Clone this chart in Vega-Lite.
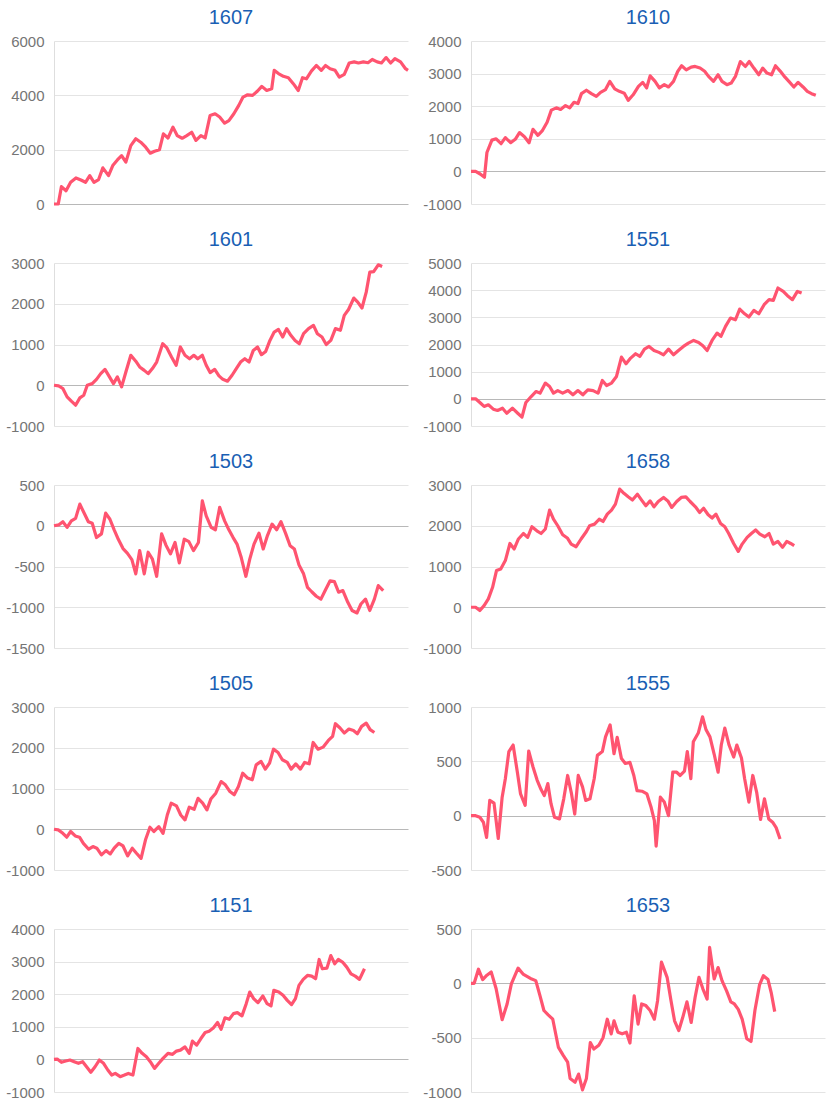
{
"$schema": "https://vega.github.io/schema/vega-lite/v6.json",
"background": "white",
"padding": {"left": 5, "top": 8, "right": 5, "bottom": 5},
"config": {
  "view": {"stroke": null},
  "title": {"fontSize": 20, "font": "Liberation Sans", "color": "#1a5fb4", "fontWeight": "normal", "anchor": "middle", "offset": 6},
  "axis": {"ticks": false, "labelFontSize": 15, "labelColor": "#757575", "labelFont": "Liberation Sans", "labelPadding": 10, "domainColor": "#dedede", "gridWidth": 1},
  "line": {"color": "#ff5470", "strokeWidth": 3.2, "strokeJoin": "round"}
},
"datasets": {
"s1607": [{"d":0,"v":0},{"d":1.2,"v":0},{"d":2.1,"v":640},{"d":3.4,"v":490},{"d":4.7,"v":800},{"d":6.2,"v":960},{"d":7.6,"v":885},{"d":8.9,"v":800},{"d":10.1,"v":1045},{"d":11.3,"v":800},{"d":12.6,"v":900},{"d":13.8,"v":1330},{"d":15.4,"v":1045},{"d":16.6,"v":1415},{"d":17.9,"v":1620},{"d":19.1,"v":1780},{"d":20.3,"v":1540},{"d":21.7,"v":2150},{"d":23.1,"v":2400},{"d":24.5,"v":2275},{"d":25.9,"v":2090},{"d":27.2,"v":1870},{"d":28.4,"v":1940},{"d":29.8,"v":2000},{"d":30.9,"v":2580},{"d":32.2,"v":2430},{"d":33.6,"v":2830},{"d":34.8,"v":2520},{"d":36.2,"v":2420},{"d":37.5,"v":2520},{"d":38.9,"v":2640},{"d":40.1,"v":2340},{"d":41.5,"v":2520},{"d":42.7,"v":2430},{"d":44.1,"v":3260},{"d":45.5,"v":3320},{"d":46.8,"v":3200},{"d":48.2,"v":2975},{"d":49.4,"v":3070},{"d":50.8,"v":3320},{"d":52.2,"v":3630},{"d":53.4,"v":3935},{"d":54.7,"v":4020},{"d":56.1,"v":4000},{"d":57.5,"v":4160},{"d":58.7,"v":4330},{"d":60.1,"v":4180},{"d":61.5,"v":4240},{"d":62.2,"v":4920},{"d":63.4,"v":4800},{"d":64.8,"v":4700},{"d":66.2,"v":4650},{"d":67.6,"v":4430},{"d":69.0,"v":4180},{"d":70.2,"v":4650},{"d":71.3,"v":4610},{"d":72.7,"v":4890},{"d":74.1,"v":5100},{"d":75.5,"v":4920},{"d":76.7,"v":5100},{"d":78.0,"v":4980},{"d":79.4,"v":4920},{"d":80.6,"v":4670},{"d":82.0,"v":4770},{"d":83.4,"v":5190},{"d":84.8,"v":5230},{"d":86.0,"v":5190},{"d":87.4,"v":5230},{"d":88.7,"v":5200},{"d":89.9,"v":5320},{"d":91.3,"v":5230},{"d":92.5,"v":5190},{"d":93.8,"v":5390},{"d":95.1,"v":5190},{"d":96.3,"v":5350},{"d":97.9,"v":5230},{"d":99.3,"v":4980},{"d":100,"v":4920}],
"s1610": [{"d":0,"v":0},{"d":1.3,"v":0},{"d":2.6,"v":-80},{"d":3.8,"v":-180},{"d":4.5,"v":580},{"d":5.9,"v":960},{"d":7.1,"v":1000},{"d":8.5,"v":850},{"d":9.7,"v":1035},{"d":11.2,"v":880},{"d":12.5,"v":985},{"d":13.7,"v":1190},{"d":15.1,"v":1065},{"d":16.4,"v":880},{"d":17.5,"v":1290},{"d":18.9,"v":1105},{"d":20.1,"v":1240},{"d":21.5,"v":1510},{"d":22.7,"v":1880},{"d":24.1,"v":1950},{"d":25.3,"v":1900},{"d":26.7,"v":2020},{"d":27.9,"v":1950},{"d":29.1,"v":2120},{"d":30.2,"v":2080},{"d":31.2,"v":2385},{"d":32.6,"v":2490},{"d":34.0,"v":2385},{"d":35.4,"v":2300},{"d":36.6,"v":2425},{"d":38.0,"v":2510},{"d":39.2,"v":2760},{"d":40.6,"v":2530},{"d":41.9,"v":2455},{"d":43.3,"v":2400},{"d":44.4,"v":2180},{"d":45.8,"v":2350},{"d":47.3,"v":2610},{"d":48.5,"v":2730},{"d":49.6,"v":2560},{"d":50.6,"v":2930},{"d":52.0,"v":2760},{"d":53.2,"v":2560},{"d":54.6,"v":2660},{"d":55.8,"v":2590},{"d":57.2,"v":2760},{"d":58.4,"v":3070},{"d":59.5,"v":3240},{"d":60.8,"v":3115},{"d":62.2,"v":3200},{"d":63.3,"v":3220},{"d":64.7,"v":3170},{"d":66.0,"v":3070},{"d":67.1,"v":2915},{"d":68.5,"v":2760},{"d":69.8,"v":2965},{"d":70.9,"v":2760},{"d":72.3,"v":2660},{"d":73.5,"v":2710},{"d":74.7,"v":2915},{"d":76.1,"v":3370},{"d":77.5,"v":3220},{"d":78.6,"v":3370},{"d":79.9,"v":3170},{"d":81.3,"v":2965},{"d":82.4,"v":3170},{"d":83.6,"v":3015},{"d":84.9,"v":2965},{"d":86.0,"v":3240},{"d":87.4,"v":3070},{"d":88.7,"v":2890},{"d":89.8,"v":2760},{"d":91.2,"v":2590},{"d":92.4,"v":2730},{"d":93.8,"v":2590},{"d":95.0,"v":2455},{"d":96.2,"v":2385},{"d":97.4,"v":2335}],
"s1601": [{"d":0,"v":0},{"d":1.3,"v":-15},{"d":2.5,"v":-80},{"d":3.7,"v":-285},{"d":4.9,"v":-390},{"d":6.1,"v":-490},{"d":7.3,"v":-310},{"d":8.4,"v":-245},{"d":9.4,"v":0},{"d":10.8,"v":40},{"d":12.0,"v":145},{"d":13.2,"v":285},{"d":14.4,"v":390},{"d":15.5,"v":230},{"d":16.8,"v":40},{"d":17.9,"v":205},{"d":19.1,"v":-40},{"d":20.3,"v":325},{"d":21.7,"v":735},{"d":23.1,"v":590},{"d":24.2,"v":450},{"d":25.5,"v":365},{"d":26.6,"v":285},{"d":27.8,"v":410},{"d":29.0,"v":570},{"d":30.7,"v":1020},{"d":31.9,"v":915},{"d":33.2,"v":695},{"d":34.5,"v":490},{"d":35.7,"v":940},{"d":37.0,"v":735},{"d":38.3,"v":650},{"d":39.5,"v":735},{"d":40.6,"v":650},{"d":41.9,"v":735},{"d":43.0,"v":490},{"d":44.1,"v":310},{"d":45.4,"v":390},{"d":46.6,"v":230},{"d":47.7,"v":145},{"d":49.0,"v":100},{"d":50.3,"v":245},{"d":51.5,"v":410},{"d":52.7,"v":570},{"d":53.9,"v":650},{"d":55.1,"v":570},{"d":56.3,"v":855},{"d":57.5,"v":940},{"d":58.6,"v":750},{"d":59.8,"v":830},{"d":61.0,"v":1100},{"d":62.2,"v":1305},{"d":63.4,"v":1370},{"d":64.6,"v":1185},{"d":65.7,"v":1390},{"d":66.9,"v":1225},{"d":68.1,"v":1100},{"d":69.3,"v":1020},{"d":70.5,"v":1265},{"d":71.9,"v":1390},{"d":73.3,"v":1470},{"d":74.4,"v":1265},{"d":75.7,"v":1185},{"d":76.9,"v":1000},{"d":78.2,"v":1100},{"d":79.5,"v":1390},{"d":80.9,"v":1350},{"d":82.0,"v":1715},{"d":83.2,"v":1860},{"d":84.7,"v":2140},{"d":85.8,"v":2040},{"d":87.0,"v":1895},{"d":88.2,"v":2285},{"d":89.2,"v":2775},{"d":90.3,"v":2790},{"d":91.6,"v":2955},{"d":92.7,"v":2915}],
"s1551": [{"d":0,"v":0},{"d":1.3,"v":0},{"d":2.5,"v":-135},{"d":3.7,"v":-280},{"d":4.9,"v":-220},{"d":6.3,"v":-380},{"d":7.5,"v":-430},{"d":8.9,"v":-345},{"d":10.1,"v":-530},{"d":11.7,"v":-345},{"d":13.2,"v":-530},{"d":14.4,"v":-675},{"d":15.5,"v":-135},{"d":17.0,"v":85},{"d":18.4,"v":270},{"d":19.5,"v":210},{"d":21.0,"v":580},{"d":22.2,"v":455},{"d":23.3,"v":210},{"d":24.5,"v":305},{"d":25.9,"v":210},{"d":27.4,"v":305},{"d":28.8,"v":150},{"d":30.2,"v":305},{"d":31.6,"v":150},{"d":33.0,"v":330},{"d":34.5,"v":305},{"d":35.9,"v":210},{"d":37.1,"v":675},{"d":38.3,"v":490},{"d":39.7,"v":580},{"d":41.1,"v":825},{"d":42.5,"v":1535},{"d":43.8,"v":1290},{"d":45.1,"v":1500},{"d":46.5,"v":1660},{"d":47.7,"v":1560},{"d":49.0,"v":1830},{"d":50.3,"v":1930},{"d":51.7,"v":1780},{"d":53.1,"v":1710},{"d":54.4,"v":1620},{"d":55.8,"v":1830},{"d":57.2,"v":1620},{"d":58.6,"v":1780},{"d":60.0,"v":1930},{"d":61.4,"v":2050},{"d":62.9,"v":2150},{"d":64.3,"v":2075},{"d":65.5,"v":1955},{"d":66.7,"v":1780},{"d":68.1,"v":2150},{"d":69.5,"v":2420},{"d":70.6,"v":2300},{"d":71.9,"v":2665},{"d":73.3,"v":2975},{"d":74.7,"v":2910},{"d":75.9,"v":3305},{"d":77.3,"v":3130},{"d":78.5,"v":3010},{"d":79.9,"v":3255},{"d":81.3,"v":3130},{"d":82.8,"v":3465},{"d":84.2,"v":3650},{"d":85.4,"v":3625},{"d":86.7,"v":4080},{"d":88.2,"v":3955},{"d":89.4,"v":3795},{"d":90.8,"v":3650},{"d":92.2,"v":3955},{"d":93.4,"v":3895}],
"s1503": [{"d":0,"v":0},{"d":1.3,"v":10},{"d":2.5,"v":50},{"d":3.7,"v":-20},{"d":4.9,"v":60},{"d":6.1,"v":90},{"d":7.3,"v":265},{"d":8.4,"v":165},{"d":9.7,"v":50},{"d":10.8,"v":30},{"d":12.0,"v":-145},{"d":13.4,"v":-100},{"d":14.6,"v":155},{"d":15.8,"v":80},{"d":17.0,"v":-50},{"d":18.2,"v":-170},{"d":19.5,"v":-280},{"d":20.7,"v":-335},{"d":22.0,"v":-415},{"d":23.1,"v":-590},{"d":24.2,"v":-305},{"d":25.5,"v":-590},{"d":26.6,"v":-325},{"d":27.8,"v":-410},{"d":29.0,"v":-620},{"d":30.4,"v":-100},{"d":31.6,"v":-235},{"d":32.9,"v":-345},{"d":34.2,"v":-205},{"d":35.4,"v":-455},{"d":36.8,"v":-165},{"d":38.1,"v":-195},{"d":39.4,"v":-305},{"d":40.8,"v":-205},{"d":41.9,"v":305},{"d":43.0,"v":120},{"d":44.4,"v":-20},{"d":45.6,"v":-50},{"d":46.8,"v":225},{"d":48.2,"v":60},{"d":49.4,"v":-50},{"d":50.6,"v":-145},{"d":51.7,"v":-225},{"d":52.9,"v":-390},{"d":54.2,"v":-620},{"d":55.3,"v":-410},{"d":56.5,"v":-225},{"d":57.9,"v":-90},{"d":59.1,"v":-285},{"d":60.3,"v":-120},{"d":61.6,"v":20},{"d":62.9,"v":-50},{"d":64.1,"v":50},{"d":65.4,"v":-90},{"d":66.7,"v":-245},{"d":67.9,"v":-285},{"d":69.2,"v":-480},{"d":70.5,"v":-590},{"d":71.6,"v":-755},{"d":72.8,"v":-810},{"d":74.1,"v":-865},{"d":75.4,"v":-900},{"d":76.6,"v":-795},{"d":78.0,"v":-675},{"d":79.2,"v":-685},{"d":80.4,"v":-815},{"d":81.6,"v":-795},{"d":83.0,"v":-940},{"d":84.2,"v":-1040},{"d":85.6,"v":-1070},{"d":86.7,"v":-960},{"d":88.0,"v":-900},{"d":89.2,"v":-1040},{"d":90.5,"v":-900},{"d":91.6,"v":-735},{"d":93.0,"v":-795}],
"s1658": [{"d":0,"v":0},{"d":1.3,"v":0},{"d":2.5,"v":-80},{"d":3.7,"v":40},{"d":4.9,"v":205},{"d":6.1,"v":490},{"d":7.2,"v":900},{"d":8.4,"v":940},{"d":9.7,"v":1145},{"d":11.0,"v":1565},{"d":12.2,"v":1430},{"d":13.4,"v":1675},{"d":14.8,"v":1810},{"d":16.0,"v":1715},{"d":17.2,"v":1975},{"d":18.6,"v":1875},{"d":19.8,"v":1810},{"d":21.0,"v":1920},{"d":22.2,"v":2385},{"d":23.3,"v":2160},{"d":24.5,"v":2000},{"d":25.9,"v":1780},{"d":27.2,"v":1700},{"d":28.3,"v":1550},{"d":29.7,"v":1485},{"d":31.1,"v":1675},{"d":32.6,"v":1860},{"d":33.5,"v":2000},{"d":34.9,"v":2040},{"d":36.2,"v":2160},{"d":37.3,"v":2105},{"d":38.5,"v":2285},{"d":39.7,"v":2385},{"d":40.8,"v":2530},{"d":42.0,"v":2900},{"d":43.2,"v":2795},{"d":44.4,"v":2710},{"d":45.6,"v":2630},{"d":47.0,"v":2775},{"d":48.2,"v":2630},{"d":49.4,"v":2490},{"d":50.6,"v":2610},{"d":51.7,"v":2465},{"d":52.9,"v":2595},{"d":54.4,"v":2695},{"d":55.6,"v":2610},{"d":56.7,"v":2450},{"d":58.1,"v":2595},{"d":59.4,"v":2695},{"d":60.7,"v":2710},{"d":61.9,"v":2595},{"d":63.4,"v":2465},{"d":64.6,"v":2325},{"d":65.7,"v":2430},{"d":67.0,"v":2270},{"d":68.1,"v":2190},{"d":69.2,"v":2285},{"d":70.5,"v":2055},{"d":71.7,"v":1975},{"d":72.8,"v":1810},{"d":74.2,"v":1565},{"d":75.5,"v":1370},{"d":76.6,"v":1550},{"d":78.0,"v":1715},{"d":79.2,"v":1810},{"d":80.4,"v":1895},{"d":81.6,"v":1795},{"d":83.0,"v":1730},{"d":84.2,"v":1810},{"d":85.4,"v":1550},{"d":86.7,"v":1615},{"d":88.0,"v":1470},{"d":89.2,"v":1615},{"d":90.3,"v":1565},{"d":91.3,"v":1510}],
"s1505": [{"d":0,"v":0},{"d":1.2,"v":-15},{"d":2.5,"v":-100},{"d":3.6,"v":-195},{"d":4.7,"v":-55},{"d":6.0,"v":-165},{"d":7.2,"v":-195},{"d":8.3,"v":-345},{"d":9.8,"v":-490},{"d":11.0,"v":-425},{"d":12.1,"v":-465},{"d":13.4,"v":-630},{"d":14.7,"v":-525},{"d":15.9,"v":-605},{"d":17.0,"v":-465},{"d":18.3,"v":-345},{"d":19.5,"v":-410},{"d":20.8,"v":-655},{"d":22.1,"v":-465},{"d":23.3,"v":-590},{"d":24.6,"v":-715},{"d":25.9,"v":-245},{"d":27.1,"v":50},{"d":28.2,"v":-55},{"d":29.6,"v":65},{"d":30.8,"v":-100},{"d":32.0,"v":350},{"d":33.1,"v":640},{"d":34.6,"v":575},{"d":35.8,"v":350},{"d":37.0,"v":230},{"d":38.2,"v":540},{"d":39.6,"v":490},{"d":40.7,"v":760},{"d":42.0,"v":640},{"d":43.2,"v":475},{"d":44.3,"v":740},{"d":45.7,"v":885},{"d":47.2,"v":1170},{"d":48.4,"v":1090},{"d":49.7,"v":925},{"d":50.9,"v":845},{"d":52.1,"v":1050},{"d":53.3,"v":1375},{"d":54.7,"v":1255},{"d":56.0,"v":1215},{"d":57.1,"v":1580},{"d":58.5,"v":1665},{"d":59.7,"v":1475},{"d":60.9,"v":1625},{"d":62.0,"v":1965},{"d":63.3,"v":1885},{"d":64.5,"v":1705},{"d":65.9,"v":1640},{"d":67.0,"v":1475},{"d":68.3,"v":1605},{"d":69.6,"v":1475},{"d":70.8,"v":1640},{"d":72.1,"v":1605},{"d":73.2,"v":2130},{"d":74.6,"v":1965},{"d":76.0,"v":2015},{"d":77.5,"v":2180},{"d":78.7,"v":2280},{"d":79.5,"v":2590},{"d":80.8,"v":2485},{"d":82.0,"v":2360},{"d":83.3,"v":2460},{"d":84.6,"v":2425},{"d":85.7,"v":2345},{"d":86.9,"v":2525},{"d":88.2,"v":2605},{"d":89.3,"v":2445},{"d":90.5,"v":2375}],
"s1555": [{"d":0,"v":0},{"d":1.3,"v":0},{"d":2.5,"v":-15},{"d":3.5,"v":-60},{"d":4.4,"v":-200},{"d":5.3,"v":140},{"d":6.5,"v":115},{"d":7.7,"v":-210},{"d":8.8,"v":170},{"d":9.7,"v":340},{"d":10.7,"v":590},{"d":11.9,"v":650},{"d":13.1,"v":400},{"d":14.0,"v":200},{"d":15.3,"v":95},{"d":16.3,"v":595},{"d":17.5,"v":450},{"d":18.7,"v":325},{"d":19.8,"v":240},{"d":20.7,"v":185},{"d":21.7,"v":295},{"d":22.6,"v":110},{"d":23.6,"v":-15},{"d":25.0,"v":-30},{"d":26.2,"v":155},{"d":27.3,"v":370},{"d":28.4,"v":200},{"d":29.3,"v":15},{"d":30.3,"v":370},{"d":31.5,"v":265},{"d":32.4,"v":140},{"d":33.6,"v":155},{"d":34.8,"v":340},{"d":35.7,"v":555},{"d":37.1,"v":590},{"d":38.0,"v":725},{"d":39.3,"v":835},{"d":40.4,"v":570},{"d":41.3,"v":720},{"d":42.5,"v":525},{"d":43.6,"v":480},{"d":44.9,"v":490},{"d":46.0,"v":370},{"d":46.9,"v":230},{"d":48.3,"v":225},{"d":49.7,"v":200},{"d":50.9,"v":75},{"d":51.8,"v":-45},{"d":52.3,"v":-280},{"d":53.5,"v":170},{"d":54.6,"v":125},{"d":55.8,"v":0},{"d":57.0,"v":400},{"d":58.1,"v":400},{"d":59.1,"v":370},{"d":60.3,"v":410},{"d":61.1,"v":590},{"d":62.1,"v":340},{"d":62.8,"v":680},{"d":64.2,"v":760},{"d":65.4,"v":910},{"d":66.4,"v":790},{"d":67.5,"v":725},{"d":68.7,"v":565},{"d":69.8,"v":400},{"d":70.7,"v":650},{"d":71.7,"v":805},{"d":72.9,"v":650},{"d":74.2,"v":540},{"d":75.1,"v":650},{"d":76.4,"v":530},{"d":77.3,"v":340},{"d":78.5,"v":125},{"d":79.6,"v":370},{"d":80.7,"v":215},{"d":81.8,"v":-35},{"d":82.9,"v":155},{"d":84.1,"v":-30},{"d":85.2,"v":-60},{"d":86.2,"v":-110},{"d":87.3,"v":-215}],
"s1151": [{"d":0,"v":0},{"d":0.9,"v":10},{"d":2.1,"v":-90},{"d":3.3,"v":-50},{"d":4.5,"v":-20},{"d":5.7,"v":-70},{"d":6.9,"v":-120},{"d":8.1,"v":-70},{"d":9.2,"v":-225},{"d":10.4,"v":-395},{"d":11.6,"v":-225},{"d":12.8,"v":-20},{"d":14.0,"v":-120},{"d":15.2,"v":-325},{"d":16.3,"v":-480},{"d":17.3,"v":-430},{"d":18.7,"v":-530},{"d":19.9,"v":-480},{"d":21.0,"v":-430},{"d":22.3,"v":-480},{"d":23.7,"v":335},{"d":24.9,"v":185},{"d":26.1,"v":80},{"d":27.2,"v":-70},{"d":28.4,"v":-275},{"d":29.6,"v":-120},{"d":30.8,"v":30},{"d":32.2,"v":185},{"d":33.5,"v":155},{"d":34.6,"v":255},{"d":35.7,"v":285},{"d":37.0,"v":385},{"d":38.2,"v":185},{"d":39.1,"v":560},{"d":40.3,"v":440},{"d":41.5,"v":640},{"d":42.7,"v":825},{"d":43.8,"v":865},{"d":45.0,"v":965},{"d":46.2,"v":1130},{"d":47.2,"v":925},{"d":48.3,"v":1275},{"d":49.5,"v":1230},{"d":50.7,"v":1405},{"d":51.8,"v":1435},{"d":53.1,"v":1335},{"d":54.3,"v":1710},{"d":55.3,"v":2065},{"d":56.4,"v":1865},{"d":57.6,"v":1740},{"d":59.0,"v":1945},{"d":60.2,"v":1710},{"d":61.3,"v":1640},{"d":62.1,"v":2120},{"d":63.5,"v":2065},{"d":64.7,"v":1965},{"d":65.9,"v":1810},{"d":67.1,"v":1680},{"d":68.2,"v":1865},{"d":69.2,"v":2270},{"d":70.4,"v":2455},{"d":71.6,"v":2575},{"d":72.8,"v":2555},{"d":73.9,"v":2475},{"d":74.9,"v":3065},{"d":75.8,"v":2780},{"d":77.1,"v":2800},{"d":78.2,"v":3185},{"d":79.3,"v":2935},{"d":80.3,"v":3065},{"d":81.5,"v":2985},{"d":82.7,"v":2830},{"d":83.9,"v":2625},{"d":85.1,"v":2555},{"d":86.3,"v":2455},{"d":87.7,"v":2780}],
"s1653": [{"d":0,"v":0},{"d":0.9,"v":0},{"d":2.1,"v":130},{"d":3.3,"v":35},{"d":4.5,"v":75},{"d":5.7,"v":105},{"d":7.1,"v":-50},{"d":8.8,"v":-335},{"d":10.2,"v":-190},{"d":11.4,"v":-5},{"d":13.3,"v":140},{"d":14.7,"v":85},{"d":16.8,"v":45},{"d":18.3,"v":25},{"d":19.5,"v":-115},{"d":20.6,"v":-250},{"d":21.8,"v":-290},{"d":23.1,"v":-330},{"d":24.7,"v":-590},{"d":26.1,"v":-665},{"d":27.3,"v":-725},{"d":28.0,"v":-875},{"d":29.4,"v":-910},{"d":30.4,"v":-835},{"d":31.5,"v":-980},{"d":32.6,"v":-875},{"d":33.7,"v":-545},{"d":34.7,"v":-605},{"d":36.1,"v":-570},{"d":37.3,"v":-500},{"d":38.5,"v":-330},{"d":39.6,"v":-465},{"d":40.4,"v":-345},{"d":41.5,"v":-450},{"d":42.7,"v":-465},{"d":43.9,"v":-450},{"d":44.9,"v":-550},{"d":46.1,"v":-115},{"d":47.2,"v":-375},{"d":48.2,"v":-190},{"d":49.4,"v":-205},{"d":50.6,"v":-250},{"d":51.8,"v":-330},{"d":52.7,"v":-160},{"d":53.8,"v":195},{"d":55.4,"v":55},{"d":56.5,"v":-160},{"d":57.5,"v":-345},{"d":58.7,"v":-435},{"d":59.8,"v":-315},{"d":61.0,"v":-170},{"d":62.2,"v":-360},{"d":63.3,"v":-130},{"d":64.4,"v":55},{"d":65.5,"v":-50},{"d":66.7,"v":-145},{"d":67.4,"v":330},{"d":68.7,"v":40},{"d":69.8,"v":145},{"d":70.9,"v":25},{"d":72.2,"v":-70},{"d":73.4,"v":-170},{"d":74.4,"v":-190},{"d":75.5,"v":-240},{"d":76.6,"v":-330},{"d":77.9,"v":-510},{"d":79.1,"v":-535},{"d":80.2,"v":-250},{"d":81.5,"v":-15},{"d":82.6,"v":70},{"d":83.9,"v":35},{"d":84.8,"v":-85},{"d":85.8,"v":-260}]
},
"columns": 2,
"spacing": {"row": 18, "column": 12},
"concat": [
{"title": "1607", "data": {"name": "s1607"}, "width": 354, "height": 163, "mark": {"type": "line"},
 "encoding": {"x": {"field": "d", "type": "quantitative", "scale": {"domain": [0, 100], "nice": false, "zero": false}, "axis": null},
  "y": {"field": "v", "type": "quantitative", "title": null, "scale": {"domain": [0, 6000], "nice": false}, "axis": {"values": [0, 2000, 4000, 6000], "labelExpr": "datum.value + ''", "gridColor": {"condition": {"test": "datum.value === 0", "value": "#b8b8b8"}, "value": "#e4e4e4"}}}}},
{"title": "1610", "data": {"name": "s1610"}, "width": 354, "height": 163, "mark": {"type": "line"},
 "encoding": {"x": {"field": "d", "type": "quantitative", "scale": {"domain": [0, 100], "nice": false, "zero": false}, "axis": null},
  "y": {"field": "v", "type": "quantitative", "title": null, "scale": {"domain": [-1000, 4000], "nice": false}, "axis": {"values": [-1000, 0, 1000, 2000, 3000, 4000], "labelExpr": "datum.value + ''", "gridColor": {"condition": {"test": "datum.value === 0", "value": "#b8b8b8"}, "value": "#e4e4e4"}}}}},
{"title": "1601", "data": {"name": "s1601"}, "width": 354, "height": 163, "mark": {"type": "line"},
 "encoding": {"x": {"field": "d", "type": "quantitative", "scale": {"domain": [0, 100], "nice": false, "zero": false}, "axis": null},
  "y": {"field": "v", "type": "quantitative", "title": null, "scale": {"domain": [-1000, 3000], "nice": false}, "axis": {"values": [-1000, 0, 1000, 2000, 3000], "labelExpr": "datum.value + ''", "gridColor": {"condition": {"test": "datum.value === 0", "value": "#b8b8b8"}, "value": "#e4e4e4"}}}}},
{"title": "1551", "data": {"name": "s1551"}, "width": 354, "height": 163, "mark": {"type": "line"},
 "encoding": {"x": {"field": "d", "type": "quantitative", "scale": {"domain": [0, 100], "nice": false, "zero": false}, "axis": null},
  "y": {"field": "v", "type": "quantitative", "title": null, "scale": {"domain": [-1000, 5000], "nice": false}, "axis": {"values": [-1000, 0, 1000, 2000, 3000, 4000, 5000], "labelExpr": "datum.value + ''", "gridColor": {"condition": {"test": "datum.value === 0", "value": "#b8b8b8"}, "value": "#e4e4e4"}}}}},
{"title": "1503", "data": {"name": "s1503"}, "width": 354, "height": 163, "mark": {"type": "line"},
 "encoding": {"x": {"field": "d", "type": "quantitative", "scale": {"domain": [0, 100], "nice": false, "zero": false}, "axis": null},
  "y": {"field": "v", "type": "quantitative", "title": null, "scale": {"domain": [-1500, 500], "nice": false}, "axis": {"values": [-1500, -1000, -500, 0, 500], "labelExpr": "datum.value + ''", "gridColor": {"condition": {"test": "datum.value === 0", "value": "#b8b8b8"}, "value": "#e4e4e4"}}}}},
{"title": "1658", "data": {"name": "s1658"}, "width": 354, "height": 163, "mark": {"type": "line"},
 "encoding": {"x": {"field": "d", "type": "quantitative", "scale": {"domain": [0, 100], "nice": false, "zero": false}, "axis": null},
  "y": {"field": "v", "type": "quantitative", "title": null, "scale": {"domain": [-1000, 3000], "nice": false}, "axis": {"values": [-1000, 0, 1000, 2000, 3000], "labelExpr": "datum.value + ''", "gridColor": {"condition": {"test": "datum.value === 0", "value": "#b8b8b8"}, "value": "#e4e4e4"}}}}},
{"title": "1505", "data": {"name": "s1505"}, "width": 354, "height": 163, "mark": {"type": "line"},
 "encoding": {"x": {"field": "d", "type": "quantitative", "scale": {"domain": [0, 100], "nice": false, "zero": false}, "axis": null},
  "y": {"field": "v", "type": "quantitative", "title": null, "scale": {"domain": [-1000, 3000], "nice": false}, "axis": {"values": [-1000, 0, 1000, 2000, 3000], "labelExpr": "datum.value + ''", "gridColor": {"condition": {"test": "datum.value === 0", "value": "#b8b8b8"}, "value": "#e4e4e4"}}}}},
{"title": "1555", "data": {"name": "s1555"}, "width": 354, "height": 163, "mark": {"type": "line"},
 "encoding": {"x": {"field": "d", "type": "quantitative", "scale": {"domain": [0, 100], "nice": false, "zero": false}, "axis": null},
  "y": {"field": "v", "type": "quantitative", "title": null, "scale": {"domain": [-500, 1000], "nice": false}, "axis": {"values": [-500, 0, 500, 1000], "labelExpr": "datum.value + ''", "gridColor": {"condition": {"test": "datum.value === 0", "value": "#b8b8b8"}, "value": "#e4e4e4"}}}}},
{"title": "1151", "data": {"name": "s1151"}, "width": 354, "height": 163, "mark": {"type": "line"},
 "encoding": {"x": {"field": "d", "type": "quantitative", "scale": {"domain": [0, 100], "nice": false, "zero": false}, "axis": null},
  "y": {"field": "v", "type": "quantitative", "title": null, "scale": {"domain": [-1000, 4000], "nice": false}, "axis": {"values": [-1000, 0, 1000, 2000, 3000, 4000], "labelExpr": "datum.value + ''", "gridColor": {"condition": {"test": "datum.value === 0", "value": "#b8b8b8"}, "value": "#e4e4e4"}}}}},
{"title": "1653", "data": {"name": "s1653"}, "width": 354, "height": 163, "mark": {"type": "line"},
 "encoding": {"x": {"field": "d", "type": "quantitative", "scale": {"domain": [0, 100], "nice": false, "zero": false}, "axis": null},
  "y": {"field": "v", "type": "quantitative", "title": null, "scale": {"domain": [-1000, 500], "nice": false}, "axis": {"values": [-1000, -500, 0, 500], "labelExpr": "datum.value + ''", "gridColor": {"condition": {"test": "datum.value === 0", "value": "#b8b8b8"}, "value": "#e4e4e4"}}}}}
]
}
